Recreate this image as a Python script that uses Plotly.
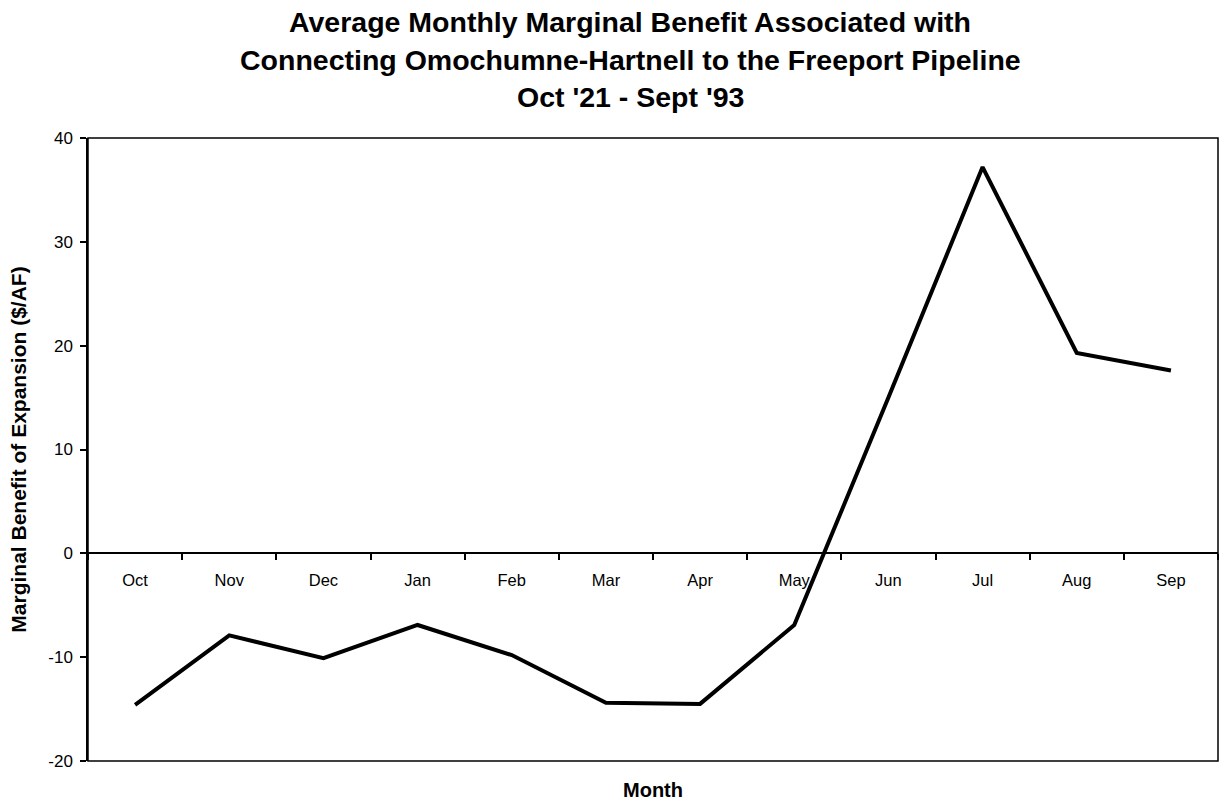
import plotly.graph_objects as go

months = ["Oct", "Nov", "Dec", "Jan", "Feb", "Mar", "Apr", "May", "Jun", "Jul", "Aug", "Sep"]
benefit = [-14.6, -7.9, -10.1, -6.9, -9.8, -14.4, -14.5, -6.9, 15.0, 37.2, 19.3, 17.6]

y_ticks = [-20, -10, 0, 10, 20, 30, 40]
y_tick_labels = ["-20", "-10", "0", "10", "20", "30", "40"]
y_min, y_max = -20, 40

title_lines = [
    "Average Monthly Marginal Benefit Associated with",
    "Connecting Omochumne-Hartnell to the Freeport Pipeline",
    "Oct '21 - Sept '93",
]

font_family = "Liberation Sans, Arial, sans-serif"

fig = go.Figure()
fig.add_trace(go.Scatter(
    x=months, y=benefit, mode="lines",
    line=dict(color="black", width=4),
    showlegend=False, hoverinfo="x+y",
))

# Category axis sits on the zero line, with ticks between months
zero_pos = (0 - y_min) / (y_max - y_min)

annotations = []
# Three centred title lines above the plot area
for shift, line in zip([116, 78, 41], title_lines):
    annotations.append(dict(
        text=line, xref="paper", yref="paper", x=0.48, y=1, yshift=shift,
        xanchor="center", yanchor="middle", showarrow=False,
        font=dict(size=28.5, color="black", weight="bold"),
    ))
annotations.append(dict(
    text="Month", xref="paper", yref="paper",
    x=0.5, y=0, yshift=-29, xanchor="center", yanchor="middle",
    showarrow=False, font=dict(size=20, color="black", weight="bold"),
))

fig.update_layout(
    width=1228, height=801,
    margin=dict(l=88, r=10, t=138, b=40),
    paper_bgcolor="white", plot_bgcolor="white",
    font=dict(family=font_family, color="black", size=16),
    xaxis=dict(
        type="category", categoryorder="array", categoryarray=months,
        range=[-0.5, len(months) - 0.5],
        anchor="free", position=zero_pos,
        showline=True, linecolor="black", linewidth=1.5,
        ticks="outside", tickson="boundaries", ticklen=6, tickcolor="black", tickwidth=1.5,
        ticklabelstandoff=12,
        tickfont=dict(size=16.5, color="black"),
        showgrid=False, zeroline=False,
    ),
    yaxis=dict(
        range=[y_min, y_max], tickvals=y_ticks, ticktext=y_tick_labels,
        showline=True, linecolor="black", linewidth=1.5,
        ticks="outside", ticklen=6, tickcolor="black", tickwidth=1.5,
        ticklabelstandoff=4,
        tickfont=dict(size=17, color="black"),
        showgrid=False, zeroline=False,
        title=dict(text="Marginal Benefit of Expansion ($/AF)",
                   font=dict(size=21, color="black", weight="bold"), standoff=16),
    ),
    shapes=[dict(type="rect", xref="x domain", yref="y domain",
                 x0=0, x1=1, y0=0, y1=1,
                 line=dict(color="black", width=1.5), layer="below")],
    annotations=annotations,
)

fig.write_html("out.html")
